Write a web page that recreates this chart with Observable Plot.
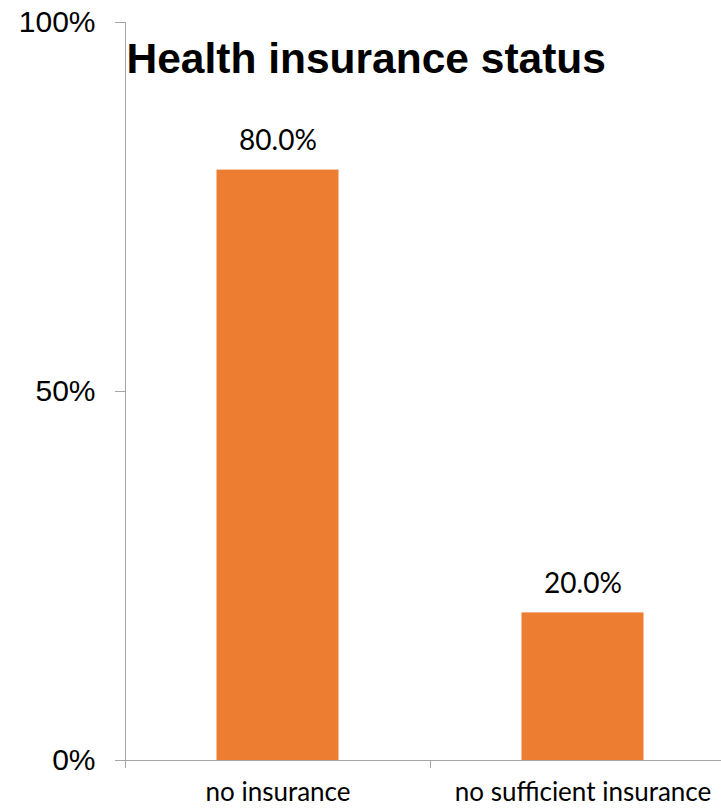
<!DOCTYPE html>
<html>
<head>
<meta charset="utf-8">
<script src="https://cdn.jsdelivr.net/npm/d3@7"></script>
<script src="https://cdn.jsdelivr.net/npm/@observablehq/plot@0.6"></script>
<style>
  html, body { margin: 0; padding: 0; background: #ffffff; overflow: hidden; }
  #chart { width: 721px; height: 808px; }
</style>
</head>
<body>
<div id="chart"></div>
<script>
// ---- data ----
const title = "Health insurance status";
const categories = ["no insurance", "no sufficient insurance"];
const shares = [0.80, 0.20];
const yTicks = [0, 0.5, 1];

const data = categories.map((c, i) => ({category: c, share: shares[i]}));

// ---- layout ----
const W = 721, H = 808;
const mL = 125, mR = -14, mT = 22, mB = 48;
const step = (W - mL - mR) / categories.length;
const barInset = step * 0.3;
const gray = "#a6a6a6";
const labelFont = "Lato, 'Open Sans', sans-serif";

const chart = Plot.plot({
  width: W,
  height: H,
  marginLeft: mL,
  marginRight: mR,
  marginTop: mT,
  marginBottom: mB,
  style: {background: "#ffffff", color: "#000000", fontFamily: "'Liberation Sans', Arial, sans-serif"},
  x: {domain: categories, padding: 0, axis: null},
  y: {domain: [0, 1], axis: null},
  marks: [
    Plot.barY(data, {x: "category", y: "share", fill: "#ED7D31", insetLeft: barInset, insetRight: barInset}),
    Plot.ruleY([0], {stroke: gray, strokeWidth: 1}),
    Plot.ruleX(categories.slice(0, 1), {x: d => d, dx: -step / 2, stroke: gray, insetBottom: -8}),
    Plot.ruleX(categories.slice(1), {x: d => d, y1: 0, y2: 0, dx: -step / 2, stroke: gray, insetBottom: -8}),
    Plot.axisY({
      ticks: yTicks,
      tickFormat: d3.format(".0%"),
      tickSize: 10,
      tickPadding: 20,
      label: null,
      stroke: gray,
      fill: "#000000",
      fontSize: 30,
      fontFamily: "'Liberation Sans', Arial, sans-serif"
    }),
    Plot.text(data, {
      x: "category",
      frameAnchor: "bottom",
      text: "category",
      dy: 40,
      lineAnchor: "bottom",
      fontSize: 26,
      fontFamily: labelFont,
      fill: "#000000"
    }),
    Plot.text(data, {
      x: "category",
      y: "share",
      text: d => d3.format(".1%")(d.share),
      dy: -20,
      lineAnchor: "bottom",
      fontSize: 28,
      fontFamily: labelFont,
      fill: "#000000"
    }),
    Plot.text([title], {
      frameAnchor: "top-left",
      textAnchor: "start",
      lineAnchor: "bottom",
      dx: 1,
      dy: 50,
      fontSize: 42.5,
      fontWeight: "bold",
      fontFamily: "'Liberation Sans', Arial, sans-serif",
      fill: "#000000"
    })
  ]
});

document.getElementById("chart").appendChild(chart);
</script>
</body>
</html>
